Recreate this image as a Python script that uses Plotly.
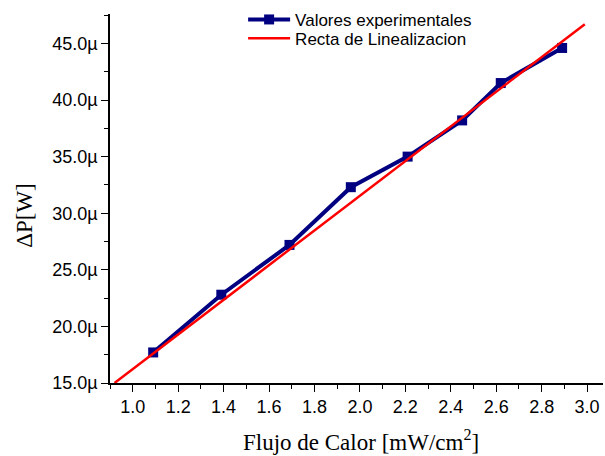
import plotly.graph_objects as go

# Experimental heat-flux vs power-difference measurements
flujo = [1.09, 1.39, 1.69, 1.96, 2.21, 2.45, 2.62, 2.89]
delta_p_uW = [17.7, 22.8, 27.2, 32.3, 35.0, 38.2, 41.5, 44.6]

# Linear fit endpoints
recta_x = [0.92, 2.99]
recta_uW = [15.0, 46.7]

x_ticks = [1.0, 1.2, 1.4, 1.6, 1.8, 2.0, 2.2, 2.4, 2.6, 2.8, 3.0]
x_ticktext = ["1.0", "1.2", "1.4", "1.6", "1.8", "2.0", "2.2", "2.4", "2.6", "2.8", "3.0"]

delta_p = [v * 1e-6 for v in delta_p_uW]
recta_y = [v * 1e-6 for v in recta_uW]

fig = go.Figure()
fig.add_trace(go.Scatter(
    x=flujo, y=delta_p, mode="lines+markers",
    name="Valores experimentales", legend="legend",
    line=dict(color="#000080", width=4),
    marker=dict(symbol="square", size=10, color="#000080"),
))
fig.add_trace(go.Scatter(
    x=recta_x, y=recta_y, mode="lines",
    name="Recta de Linealizacion", legend="legend2",
    line=dict(color="#ff0000", width=2.5),
))

tick_font = dict(family="Liberation Sans, Arial", size=18, color="black")
title_font = dict(family="Liberation Serif, Times New Roman", size=23, color="black")
legend_font = dict(family="Liberation Sans, Arial", size=17, color="black")

legend_common = dict(
    x=0.27, xanchor="left", yanchor="middle",
    bgcolor="rgba(0,0,0,0)", font=legend_font, itemwidth=42,
)

fig.update_layout(
    width=605, height=456,
    margin=dict(l=110, r=2, t=10, b=73),
    paper_bgcolor="white", plot_bgcolor="white",
    showlegend=True,
    legend=dict(y=0.984, **legend_common),
    legend2=dict(y=0.933, **legend_common),
    xaxis=dict(
        range=[0.9, 3.07], tickmode="array",
        tickvals=x_ticks, ticktext=x_ticktext,
        ticks="outside", ticklen=7, tickwidth=1.3, tickcolor="black",
        minor=dict(dtick=0.1, tick0=0.9, ticks="outside", ticklen=4, tickcolor="black", tickwidth=1.3),
        showline=True, linecolor="black", linewidth=1.5,
        showgrid=False, zeroline=False, tickfont=tick_font,
    ),
    yaxis=dict(
        range=[15e-6, 47.6e-6], tickmode="linear", tick0=15e-6, dtick=5e-6,
        tickformat=".3s",
        ticks="outside", ticklen=7, tickwidth=1.3, tickcolor="black",
        minor=dict(dtick=2.5e-6, tick0=15e-6, ticks="outside", ticklen=4, tickcolor="black", tickwidth=1.3),
        showline=True, linecolor="black", linewidth=1.5,
        showgrid=False, zeroline=False, tickfont=tick_font,
    ),
    annotations=[
        dict(text="Flujo de Calor [mW/cm<sup>2</sup>]", xref="paper", yref="paper",
             x=0.51, y=-0.11, xanchor="center", yanchor="top",
             showarrow=False, font=title_font),
        dict(text="ΔP[W]", xref="paper", yref="paper",
             x=-0.175, y=0.455, xanchor="center", yanchor="middle",
             textangle=-90, showarrow=False, font=title_font),
    ],
)

fig.write_html("out.html")
